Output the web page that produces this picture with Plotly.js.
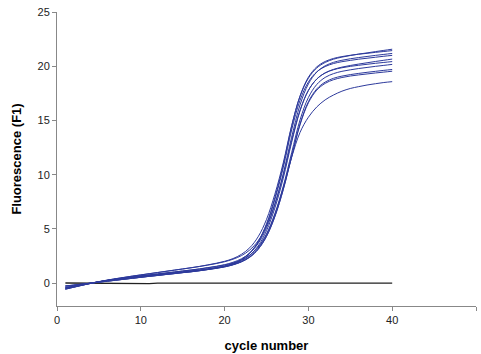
<!DOCTYPE html>
<html>
<head>
<meta charset="utf-8">
<script src="https://cdn.plot.ly/plotly-3.0.1.min.js"></script>
<style>html,body{margin:0;padding:0;background:#fff;}#chart{width:481px;height:354px;}</style>
</head>
<body>
<div id="chart"></div>
<script>
var cycles = [1,2,3,4,5,6,7,8,9,10,11,12,13,14,15,16,17,18,19,20,21,22,23,24,25,26,27,28,29,30,31,32,33,34,35,36,37,38,39,40];

var well1 = [-0.45,-0.30,-0.15,0.00,0.15,0.29,0.42,0.54,0.66,0.77,0.88,0.99,1.10,1.21,1.32,1.43,1.55,1.69,1.84,2.02,2.27,2.66,3.27,4.28,5.88,8.21,11.10,14.52,17.22,18.90,19.84,20.35,20.65,20.84,20.99,21.12,21.23,21.35,21.46,21.57];
var well2 = [-0.55,-0.37,-0.19,-0.02,0.13,0.26,0.37,0.47,0.56,0.64,0.72,0.80,0.88,0.96,1.04,1.12,1.21,1.32,1.44,1.60,1.83,2.19,2.80,3.83,5.48,7.89,10.89,14.46,17.26,18.99,19.94,20.44,20.72,20.89,21.01,21.11,21.19,21.28,21.36,21.44];
var well3 = [-0.40,-0.27,-0.13,0.00,0.13,0.25,0.37,0.48,0.58,0.68,0.77,0.86,0.95,1.04,1.13,1.22,1.32,1.44,1.56,1.71,1.93,2.25,2.78,3.66,5.10,7.26,10.08,13.46,16.44,18.37,19.46,20.04,20.36,20.55,20.69,20.80,20.90,21.00,21.09,21.18];
var well4 = [-0.25,-0.17,-0.08,0.01,0.10,0.19,0.28,0.37,0.46,0.55,0.64,0.72,0.81,0.89,0.98,1.06,1.16,1.27,1.40,1.56,1.79,2.15,2.75,3.75,5.37,7.72,10.65,14.12,16.86,18.55,19.48,19.97,20.25,20.42,20.54,20.65,20.74,20.83,20.92,21.00];
var well5 = [-0.48,-0.32,-0.16,-0.01,0.14,0.28,0.41,0.53,0.65,0.76,0.87,0.98,1.09,1.20,1.31,1.42,1.54,1.67,1.81,1.98,2.21,2.54,3.06,3.91,5.28,7.32,9.97,13.15,15.95,17.78,18.82,19.39,19.71,19.92,20.07,20.20,20.32,20.44,20.55,20.66];
var well6 = [-0.52,-0.35,-0.18,-0.02,0.12,0.25,0.36,0.46,0.55,0.63,0.71,0.79,0.87,0.95,1.03,1.11,1.20,1.30,1.42,1.56,1.76,2.07,2.58,3.43,4.84,6.94,9.68,12.98,15.88,17.77,18.82,19.38,19.68,19.86,19.99,20.09,20.18,20.27,20.35,20.43];
var well7 = [-0.38,-0.26,-0.12,0.01,0.13,0.25,0.36,0.47,0.57,0.67,0.76,0.85,0.94,1.03,1.12,1.21,1.31,1.42,1.53,1.68,1.86,2.14,2.59,3.33,4.54,6.41,8.94,12.02,15.05,17.12,18.32,18.97,19.32,19.53,19.67,19.79,19.89,19.99,20.08,20.17];
var well8 = [-0.28,-0.19,-0.09,0.00,0.09,0.18,0.27,0.36,0.45,0.54,0.63,0.71,0.80,0.88,0.97,1.05,1.15,1.26,1.37,1.50,1.69,1.96,2.39,3.12,4.32,6.16,8.66,11.70,14.68,16.73,17.91,18.54,18.89,19.09,19.23,19.34,19.44,19.53,19.62,19.70];
var well9 = [-0.55,-0.37,-0.19,-0.02,0.13,0.26,0.37,0.47,0.56,0.64,0.72,0.80,0.88,0.96,1.04,1.12,1.20,1.31,1.41,1.54,1.72,1.99,2.41,3.13,4.32,6.14,8.62,11.64,14.60,16.63,17.80,18.42,18.76,18.96,19.10,19.20,19.29,19.38,19.46,19.54];
var well10 = [-0.25,-0.17,-0.08,0.01,0.10,0.19,0.28,0.37,0.46,0.55,0.64,0.72,0.81,0.89,0.98,1.06,1.15,1.26,1.37,1.51,1.71,1.99,2.46,3.23,4.49,6.36,8.80,11.60,13.90,15.30,16.25,16.90,17.35,17.70,17.95,18.12,18.27,18.39,18.50,18.58];

var negControl = [0.02,0.01,0.00,0.00,0.00,-0.03,0.00,-0.05,-0.06,-0.05,-0.04,0.00,0.00,0.00,0.00,0.00,0.00,0.00,0.03,0.00,0.00,0.00,0.00,0.00,0.00,0.00,0.00,0.00,0.00,0.00,0.00,0.00,0.00,0.05,0.00,0.00,0.00,0.00,0.00,0.00];

var wells = [well1, well2, well3, well4, well5, well6, well7, well8, well9, well10];

var xTicks = [0, 10, 20, 30, 40, 50];
var yTicks = [0, 5, 10, 15, 20, 25];

var traces = [];
traces.push({x: cycles, y: negControl, type: 'scatter', mode: 'lines',
  line: {color: '#222222', width: 1.3}, hoverinfo: 'skip'});
wells.forEach(function (w) {
  traces.push({x: cycles, y: w, type: 'scatter', mode: 'lines',
    line: {color: '#2d3a9c', width: 1, shape: 'spline', smoothing: 1}, hoverinfo: 'skip'});
});

var fontFam = 'Arial, "Liberation Sans", sans-serif';
var layout = {
  width: 481, height: 354,
  margin: {l: 57, r: 5, t: 12, b: 48, pad: 0},
  paper_bgcolor: '#ffffff', plot_bgcolor: '#ffffff',
  showlegend: false,
  font: {family: fontFam, size: 11, color: '#222222'},
  xaxis: {
    range: [0, 50], tickvals: xTicks, ticktext: xTicks.map(String),
    showgrid: false, zeroline: false, showline: true, linecolor: '#888888', linewidth: 1,
    ticks: 'outside', ticklen: 4, tickcolor: '#888888', tickwidth: 1,
    tickfont: {family: fontFam, size: 11, color: '#222222'},
    title: {text: 'cycle number', font: {family: fontFam, size: 13, color: '#000000', weight: 'bold'}, standoff: 15},
    automargin: false
  },
  yaxis: {
    range: [-2.1, 25], tickvals: yTicks, ticktext: yTicks.map(String),
    showgrid: false, zeroline: false, showline: true, linecolor: '#888888', linewidth: 1,
    ticks: 'outside', ticklen: 4, tickcolor: '#888888', tickwidth: 1,
    tickfont: {family: fontFam, size: 11, color: '#222222'},
    title: {text: 'Fluorescence (F1)', font: {family: fontFam, size: 13, color: '#000000', weight: 'bold'}, standoff: 12},
    automargin: false
  }
};

Plotly.newPlot('chart', traces, layout, {staticPlot: true, displayModeBar: false});
</script>
</body>
</html>
